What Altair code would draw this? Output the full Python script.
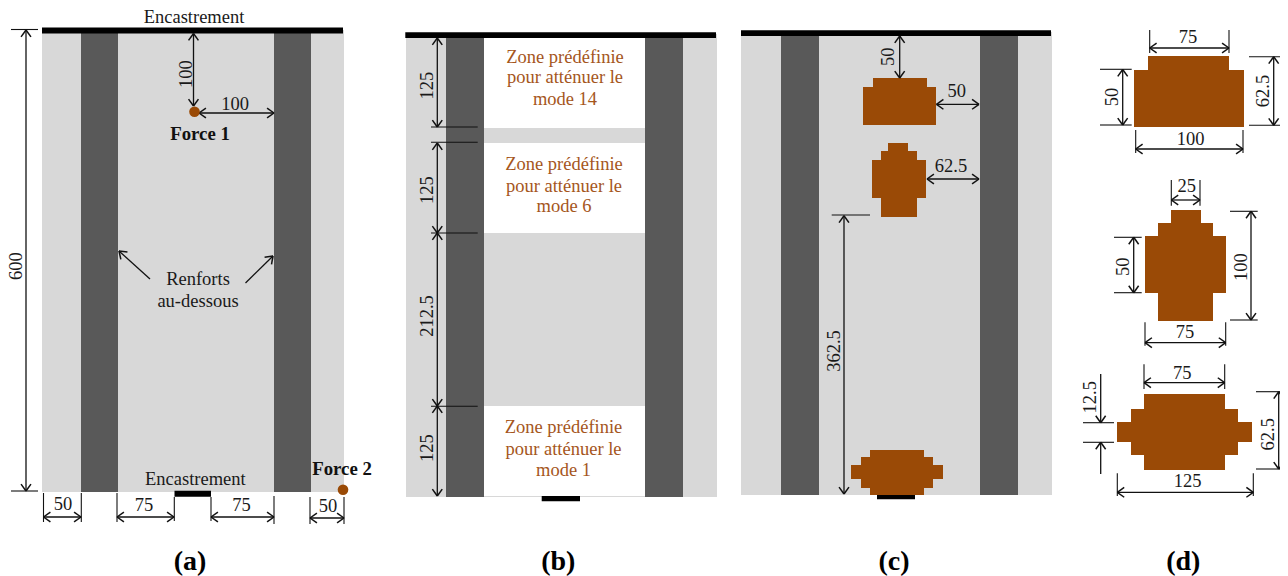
import math
import altair as alt
import pandas as pd

GREY, DARK, BROWN, BLACK, WHITE = "#d8d8d8", "#595959", "#9a4a06", "#000000", "#ffffff"
TXT_BROWN = "#a5561c"
FONT = "Liberation Serif"

# rectangles: x, x2, y, y2, colour (picture units)
plates = [
    (42, 344, 30, 492, GREY), (81, 118, 30, 492, DARK), (274, 311, 30, 492, DARK),
    (406, 717, 34, 497, GREY), (446, 484, 34, 497, DARK), (645, 683, 34, 497, DARK),
    (484, 645, 38, 128, WHITE), (484, 645, 143, 233, WHITE), (484, 645, 406, 496, WHITE),
    (741, 1052, 32, 495, GREY), (781, 819, 32, 495, DARK), (980, 1018, 32, 495, DARK),
]
clamps = [
    (42, 343, 27.5, 33.5, BLACK), (174.5, 211, 490.7, 496.7, BLACK),
    (405.3, 716, 32.3, 38, BLACK), (541.7, 580, 496, 501.3, BLACK),
    (741, 1051, 30.3, 36, BLACK), (877, 915, 495, 499.3, BLACK),
]
patches = [
    (873, 927, 78, 87), (863, 936, 87, 125),
    (888, 908, 143, 151), (881, 917, 151, 160), (872, 926, 160, 198), (881, 917, 198, 217),
    (870, 924, 450, 457), (861, 933, 457, 465), (851, 943, 465, 479), (861, 933, 479, 488), (870, 924, 488, 495),
    (1148, 1229, 56, 70), (1134, 1244, 70, 127),
    (1171, 1201, 210, 223), (1158, 1213, 223, 236), (1145, 1226, 236, 293), (1158, 1213, 293, 321),
    (1144, 1225, 394, 409), (1131, 1238, 409, 422), (1117, 1252, 422, 442), (1131, 1238, 442, 455), (1144, 1225, 455, 470),
]

# thin lines without heads: x, y, x2, y2
ext_lines = [
    (11, 29.5, 38, 29.5), (11, 491, 38, 491),
    (43.5, 493, 43.5, 522), (81.3, 493, 81.3, 522), (117, 493, 117, 522), (174.3, 497, 174.3, 521),
    (211, 497, 211, 521), (274, 496, 274, 524), (310, 497, 310, 524), (344, 497, 344, 524),
    (431, 127, 477.7, 127), (431, 142.3, 477.7, 142.3), (431, 233, 477.7, 233), (431, 406.3, 477.7, 406.3),
    (831.7, 215, 870, 215),
    (1149.7, 30, 1149.7, 53), (1229, 30, 1229, 53), (1100, 69.3, 1131.7, 69.3), (1100, 125, 1131.7, 125),
    (1249, 56.7, 1283, 56.7), (1249, 125.3, 1283, 125.3), (1135.7, 130, 1135.7, 153), (1243, 130, 1243, 153),
    (1171.3, 180, 1171.3, 205.7), (1200, 180, 1200, 205.7), (1114, 237.3, 1141.7, 237.3), (1114, 292.7, 1141.7, 292.7),
    (1230, 211.3, 1257.7, 211.3), (1230, 320, 1257.7, 320), (1145, 322.3, 1145, 345.7), (1225.7, 322.3, 1225.7, 345.7),
    (1144, 364.3, 1144, 389), (1224.7, 364.3, 1224.7, 389), (1256, 391.7, 1288, 391.7), (1256, 469, 1288, 469),
    (1117.3, 473.3, 1117.3, 496), (1253.3, 473.3, 1253.3, 496), (1083, 422.7, 1114, 422.7), (1083, 442.3, 1114, 442.3),
]
# arrows with a head at each end
double_arrows = [
    (26, 30, 26, 491), (193.5, 33.5, 193.5, 106), (199, 113, 274, 113),
    (43.5, 517, 81, 517), (117, 517, 174, 517), (211, 517, 274, 517), (310, 518, 344, 518),
    (437.3, 38, 437.3, 127), (437.3, 143, 437.3, 233), (437.3, 233, 437.3, 406), (437.3, 406, 437.3, 496),
    (899.7, 36, 899.7, 78), (936.5, 104.3, 979, 104.3), (927, 179, 979, 179), (844, 215.7, 844, 494),
    (1149.7, 48, 1229, 48), (1122.7, 69.5, 1122.7, 125), (1273.7, 56.7, 1273.7, 125.3), (1135.7, 149, 1243, 149),
    (1171.3, 200, 1200, 200), (1133.7, 237.3, 1133.7, 292.7), (1251, 211.3, 1251, 320), (1145, 342.7, 1225.7, 342.7),
    (1144, 382.7, 1224.7, 382.7), (1278.7, 391.7, 1278.7, 469), (1117.3, 492.3, 1253.3, 492.3),
]
# arrows with one head, at the second point
single_arrows = [
    (150, 279, 119, 251), (245.5, 283, 273, 256),
    (1100.7, 374, 1100.7, 422.7), (1100.7, 474, 1100.7, 442.3),
]
force_points = [(194.5, 111.7), (343, 489.7)]

labels = [
    ("Encastrement", 194, 22.7), ("Encastrement", 195.3, 485), ("100", 235, 110),
    ("Renforts", 198, 285), ("au-dessous", 198, 307),
    ("50", 63, 510), ("75", 144, 511), ("75", 241.5, 511), ("50", 328, 511.7),
    ("50", 956.7, 96.7), ("62.5", 951, 171.7),
    ("75", 1188, 43.3), ("100", 1190.7, 145), ("25", 1186.7, 192), ("75", 1185, 338),
    ("75", 1182.3, 379), ("125", 1187.7, 486.7),
]
v_labels = [
    ("600", 22, 266), ("100", 192, 74),
    ("125", 433, 85.7), ("125", 433, 190), ("212.5", 433, 316), ("125", 433, 448),
    ("50", 894, 56.7), ("362.5", 840, 351),
    ("50", 1118, 97), ("62.5", 1269, 91), ("50", 1129, 266.7), ("100", 1247, 267),
    ("62.5", 1274, 434.3), ("12.5", 1096, 397.3),
]
bold_labels = [("Force 1", 200, 140), ("Force 2", 342, 475)]
panel_labels = [("(a)", 190, 569.5), ("(b)", 558.3, 569.5), ("(c)", 894, 569.5), ("(d)", 1183.3, 570)]
zone_labels = [
    ("Zone prédéfinie", 565, 62.7), ("pour atténuer le", 565, 83.3), ("mode 14", 565, 105),
    ("Zone prédéfinie", 564, 170), ("pour atténuer le", 564, 191.7), ("mode 6", 564, 211.7),
    ("Zone prédéfinie", 563.5, 433.3), ("pour atténuer le", 563.5, 455), ("mode 1", 563.5, 476),
]

X = alt.X("x:Q", axis=None, scale=alt.Scale(domain=[8, 1280], nice=False, zero=False))
Y = alt.Y("y:Q", axis=None, scale=alt.Scale(domain=[8, 576], nice=False, zero=False, reverse=True))


def rect_layer(rows):
    df = pd.DataFrame(rows, columns=["x", "x2", "y", "y2", "c"])
    return alt.Chart(df).mark_rect(strokeWidth=0).encode(
        x=X, x2="x2:Q", y=Y, y2="y2:Q", fill=alt.Fill("c:N", scale=None, legend=None))


def seg_layer(rows, width):
    df = pd.DataFrame(rows, columns=["x", "y", "x2", "y2"])
    return alt.Chart(df).mark_rule(color="#111111", strokeWidth=width).encode(
        x=X, x2="x2:Q", y=Y, y2="y2:Q")


def text_layer(rows, size=18.5, color="#1a1a1a", weight="normal", angle=0):
    df = pd.DataFrame(rows, columns=["t", "x", "y"])
    return alt.Chart(df).mark_text(
        font=FONT, fontSize=size, color=color, fontWeight=weight, angle=angle,
        align="center", baseline="alphabetic").encode(x=X, y=Y, text="t:N")


def head(x0, y0, x1, y1, length=8.5, spread=0.62):
    """Two barbs of an open head whose tip is (x1, y1), seen from (x0, y0)."""
    a = math.atan2(y0 - y1, x0 - x1)
    return [(x1, y1, x1 + length * math.cos(a + s), y1 + length * math.sin(a + s)) for s in (spread, -spread)]


heads = []
for (a, b, c, d) in double_arrows:
    heads += head(a, b, c, d) + head(c, d, a, b)
for (a, b, c, d) in single_arrows:
    heads += head(a, b, c, d)

points = alt.Chart(pd.DataFrame(force_points, columns=["x", "y"])).mark_circle(
    size=113, color=BROWN, opacity=1).encode(x=X, y=Y)

chart = alt.layer(
    rect_layer(plates),
    rect_layer([p + (BROWN,) for p in patches]),
    rect_layer(clamps),
    seg_layer(ext_lines, 1.1),
    seg_layer(double_arrows + single_arrows, 1.3),
    seg_layer(heads, 1.5),
    points,
    text_layer(labels),
    text_layer(v_labels, angle=270),
    text_layer(bold_labels, weight="bold", color="#111111", size=18.8),
    text_layer(zone_labels, color=TXT_BROWN),
    text_layer(panel_labels, size=28, weight="bold", color="#000000"),
).properties(
    width=1272, height=568, padding=0, background="white",
    autosize=alt.AutoSizeParams(type="none"),
).configure_view(stroke=None)

chart.save("out.html", embed_options={"renderer": "svg", "actions": False})
